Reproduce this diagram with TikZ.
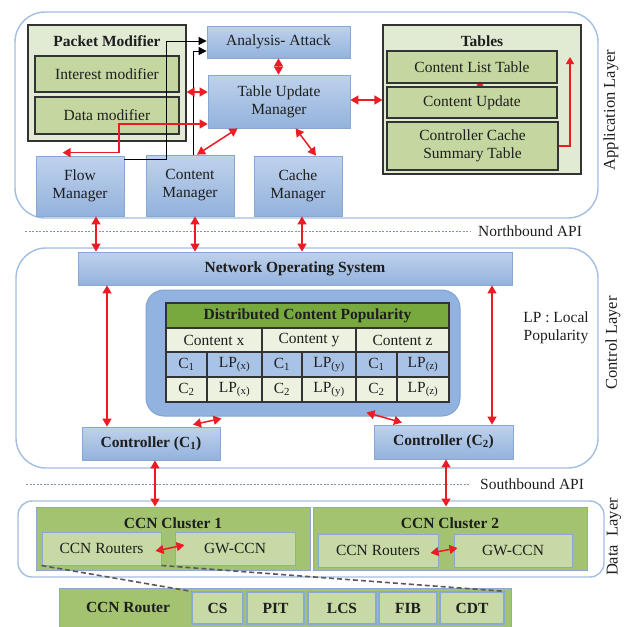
\documentclass[tikz,border=0pt]{standalone}
\usepackage{fontspec}
\setmainfont{Liberation Serif}
\usetikzlibrary{arrows.meta,calc}
\definecolor{layerline}{HTML}{A2BEE0}
\definecolor{blueTop}{HTML}{BFD2EC}
\definecolor{blueBot}{HTML}{93B2DC}
\definecolor{boxline}{HTML}{85A8D4}
\definecolor{paleGreen}{HTML}{E1EBD3}
\definecolor{midGreen}{HTML}{C4D7A0}
\definecolor{darkline}{HTML}{333333}
\definecolor{clusterGreen}{HTML}{A3C371}
\definecolor{cellGreen}{HTML}{C7DAA5}
\definecolor{clusterLine}{HTML}{86AAD4}
\definecolor{headGreen}{HTML}{78A93F}
\definecolor{rowLight}{HTML}{ECF2DF}
\definecolor{rowBlue}{HTML}{A8C3E6}
\definecolor{dcpFill}{HTML}{92B3E0}
\definecolor{dcpLine}{HTML}{7FA4D4}
\definecolor{arrred}{HTML}{EC1C24}
\definecolor{apiline}{HTML}{7F93B5}
\definecolor{inktext}{HTML}{1E1E1E}
\begin{document}
\begin{tikzpicture}[x=1pt,y=-1pt,
  base/.style={font=\fontsize{15.5}{18}\selectfont, text=inktext, inner sep=0pt, align=center},
  bf/.style={base, font=\fontsize{15.5}{18}\selectfont\bfseries},
  sz/.style 2 args={minimum width=#1pt, minimum height=#2pt},
  layer/.style={draw=layerline, line width=1.4pt, fill=white},
  bluebox/.style={base, draw=boxline, line width=0.8pt, top color=blueTop, bottom color=blueBot},
  outerbox/.style={draw=darkline, line width=1.2pt, fill=paleGreen},
  innerbox/.style={base, draw=darkline, line width=1.2pt, fill=midGreen},
  clusterbox/.style={base, draw=clusterLine, line width=1pt, fill=clusterGreen},
  cellbox/.style={base, draw=clusterLine, line width=1.3pt, fill=cellGreen},
  tcell/.style={base, draw=darkline, line width=1.2pt},
  redarr/.style={draw=arrred, line width=1.5pt, arrows={Triangle[length=8pt,width=9pt]-Triangle[length=8pt,width=9pt]}},
  redone/.style={draw=arrred, line width=1.1pt, arrows={-Triangle[length=7pt,width=8pt]}},
  redtiny/.style={draw=arrred, line width=1.4pt, arrows={Triangle[length=2pt,width=7pt]-Triangle[length=2pt,width=7pt]}},
  blkarr/.style={draw=black, line width=1pt, arrows={-Triangle[length=8pt,width=8pt]}},
  api/.style={draw=apiline, line width=0.8pt, dash pattern=on 2pt off 1.5pt},
  zoomline/.style={draw=black!65, line width=1.6pt, dash pattern=on 5pt off 3pt},
  sidelabel/.style={base, rotate=90, font=\fontsize{16.5}{18}\selectfont}
]
\useasboundingbox (0,0) rectangle (626,627);

% ---------------- layer frames ----------------
\draw[layer, rounded corners=30pt] (15,12) rectangle (598,218);
\draw[layer, rounded corners=30pt] (16,248) rectangle (598,468);
\draw[layer, rounded corners=14pt] (18,501) rectangle (604,577);

\node[sidelabel] (appl) at (611,110) {Application Layer};
\node[sidelabel] (ctll) at (613,343) {Control Layer};
\node[sidelabel] (datl) at (614,537) {Data\ \ Layer};

% ---------------- application layer ----------------
\node[outerbox, sz={158}{116}] (pm) at (107,83) {};
\node[bf] (pmt) at (107,41) {Packet Modifier};
\node[innerbox, sz={144}{36}] (im) at (107,74) {Interest modifier};
\node[innerbox, sz={144}{37}] (dm) at (107,115.5) {Data modifier};

\node[bluebox, sz={143}{32}] (aa) at (278.5,42) {Analysis- Attack};
\node[bluebox, sz={142}{53}] (tum) at (279,101.5) {Table Update\\Manager};
\node[bluebox, sz={88}{60}] (fm) at (80,186) {Flow\\Manager};
\node[bluebox, sz={88}{61}] (cm) at (190,185.5) {Content\\Manager};
\node[bluebox, sz={88}{60}] (chm) at (298,186) {Cache\\Manager};

\node[outerbox, sz={198}{149}] (tables) at (482,99.5) {};
\node[bf] (tablest) at (482,41) {Tables};
\node[innerbox, sz={170}{32}] (clt) at (472,67) {Content List Table};
\node[innerbox, sz={170}{31}] (cu) at (472,102.5) {Content Update};
\node[innerbox, sz={171}{48}] (ccst) at (472.5,146) {Controller Cache\\Summary Table};
\coordinate (cltret) at (570,57);

% ---------------- northbound API ----------------
\coordinate (nbl) at (25,231);
\coordinate (nbr) at (470,231);
\draw[api] (nbl) -- (nbr);
\node[base, anchor=west] (nbt) at (478,231) {Northbound API};

% ---------------- control layer ----------------
\node[bluebox, sz={434}{33}, font=\fontsize{15.5}{18}\selectfont\bfseries] (nos) at (295,268.5) {Network Operating System};
\node[draw=dcpLine, line width=1pt, fill=dcpFill, rounded corners=18pt, sz={314}{126}] (dcp) at (303,353) {};

\node[tcell, fill=headGreen, sz={283}{25}, font=\fontsize{15.5}{18}\selectfont\bfseries] (dh) at (307.5,315.5) {Distributed Content Popularity};
\node[tcell, fill=rowLight, sz={96}{24}] (hx) at (214,340) {Content x};
\node[tcell, fill=rowLight, sz={94}{24}] (hy) at (309,340) {Content y};
\node[tcell, fill=rowLight, sz={93}{24}] (hz) at (402.5,340) {Content z};
\node[tcell, fill=rowBlue, sz={41}{25}] (ax1) at (186.5,364.5) {C\textsubscript{1}};
\node[tcell, fill=rowBlue, sz={55}{25}] (ax2) at (234.5,364.5) {LP\textsubscript{(x)}};
\node[tcell, fill=rowBlue, sz={40}{25}] (ay1) at (282,364.5) {C\textsubscript{1}};
\node[tcell, fill=rowBlue, sz={54}{25}] (ay2) at (329,364.5) {LP\textsubscript{(y)}};
\node[tcell, fill=rowBlue, sz={41}{25}] (az1) at (376.5,364.5) {C\textsubscript{1}};
\node[tcell, fill=rowBlue, sz={52}{25}] (az2) at (423,364.5) {LP\textsubscript{(z)}};
\node[tcell, fill=rowLight, sz={41}{25}] (bx1) at (186.5,389.5) {C\textsubscript{2}};
\node[tcell, fill=rowLight, sz={55}{25}] (bx2) at (234.5,389.5) {LP\textsubscript{(x)}};
\node[tcell, fill=rowLight, sz={40}{25}] (by1) at (282,389.5) {C\textsubscript{2}};
\node[tcell, fill=rowLight, sz={54}{25}] (by2) at (329,389.5) {LP\textsubscript{(y)}};
\node[tcell, fill=rowLight, sz={41}{25}] (bz1) at (376.5,389.5) {C\textsubscript{2}};
\node[tcell, fill=rowLight, sz={52}{25}] (bz2) at (423,389.5) {LP\textsubscript{(z)}};

\node[base] (lp) at (556,328) {LP : Local\\Popularity};

\node[bluebox, sz={138}{33}, font=\fontsize{15.5}{18}\selectfont\bfseries] (c1) at (151,443.5) {Controller (C\textsubscript{1})};
\node[bluebox, sz={139}{34}, font=\fontsize{15.5}{18}\selectfont\bfseries] (c2) at (443.5,442) {Controller (C\textsubscript{2})};

% ---------------- southbound API ----------------
\coordinate (sbl) at (26,484);
\coordinate (sbr) at (470,484);
\draw[api] (sbl) -- (sbr);
\node[base, anchor=west] (sbt) at (480,484) {Southbound API};

% ---------------- data layer ----------------
\node[clusterbox, sz={274}{63}] (cl1) at (173,538.5) {};
\node[clusterbox, sz={274}{63}] (cl2) at (450,538.5) {};
\node[bf] (cl1t) at (173,523) {CCN Cluster 1};
\node[bf] (cl2t) at (450,523) {CCN Cluster 2};
\node[cellbox, line width=1pt, sz={119}{33}] (r1) at (101.5,548.5) {CCN Routers};
\node[cellbox, line width=1pt, sz={120}{33}] (g1) at (235,548.5) {GW-CCN};
\node[cellbox, line width=1pt, sz={120}{33}] (r2) at (378,550.5) {CCN Routers};
\node[cellbox, line width=1pt, sz={118}{33}] (g2) at (513,550.5) {GW-CCN};

% router detail bar
\node[clusterbox, sz={452}{40}] (rbar) at (285,608) {};
\node[bf] (rbart) at (128,607) {CCN Router};
\node[cellbox, sz={51}{32}, font=\fontsize{15.5}{18}\selectfont\bfseries] (cs) at (217.5,608) {CS};
\node[cellbox, sz={57}{32}, font=\fontsize{15.5}{18}\selectfont\bfseries] (pit) at (275.5,608) {PIT};
\node[cellbox, sz={68}{32}, font=\fontsize{15.5}{18}\selectfont\bfseries] (lcs) at (342,608) {LCS};
\node[cellbox, sz={58}{32}, font=\fontsize{15.5}{18}\selectfont\bfseries] (fib) at (408,608) {FIB};
\node[cellbox, sz={64}{32}, font=\fontsize{15.5}{18}\selectfont\bfseries] (cdt) at (472,608) {CDT};

\draw[zoomline] (r1.south west) -- (cs.north west);
\draw[zoomline] (r1.south east) -- (cdt.north east);

% ---------------- connectors ----------------
% black links into the attack analysis
\draw[blkarr] ($(fm.north east)+(0,4)$) -- ++(42,0) |- ($(aa.west)+(0,-1)$);
\draw[blkarr] ($(cm.north)+(3,0)$) |- ($(aa.west)+(0,9)$);

% red links inside the application layer
\draw[redarr] (pm.east |- 0,92) -- (tum.west |- 0,92);
\draw[redarr] (aa.south) -- (aa.south |- tum.north);
\draw[redarr] (tum.east |- 0,100) -- (tables.west |- 0,100);
\draw[redtiny] ($(clt.south)+(8,0)$) -- ($(cu.north)+(8,0)$);
\draw[redone] (ccst.east) -| (cltret);
\draw[redarr] ($(tum.south west)+(30,0)$) -- ($(cm.north)+(7,0)$);
\draw[redarr] ($(tum.south west)+(88,0)$) -- ($(chm.north)+(18,0)$);
\draw[redarr] (tum.west |- 0,124) -- (119,124) |- ($(fm.north west)+(27,-3)$);

% northbound links
\draw[redarr] (fm.south -| 96,0) -- (nos.north -| 96,0);
\draw[redarr] (cm.south -| 195,0) -- (nos.north -| 195,0);
\draw[redarr] (chm.south -| 302,0) -- (nos.north -| 302,0);

% control layer links
\draw[redarr] (nos.south -| 107,0) -- (c1.north -| 107,0);
\draw[redarr] (nos.south -| 492,0) -- (c2.north -| 492,0);
\draw[redarr] ($(c1.north)+(42,-2)$) -- ($(dcp.south west)+(76,2)$);
\draw[redarr] ($(dcp.south west)+(221,-4)$) -- ($(c2.north)+(-41.5,-2)$);

% southbound links
\draw[redarr] (c1.south -| 155,0) -- (cl1.north -| 155,0);
\draw[redarr] (c2.south -| 446,0) -- (cl2.north -| 446,0);

% links inside the clusters
\draw[redarr] ($(r1.east)+(-6,2.5)$) -- ($(g1.west)+(10,-3.5)$);
\draw[redarr] ($(r2.east)+(-8,2.5)$) -- ($(g2.west)+(4,-2.5)$);
\end{tikzpicture}
\end{document}
